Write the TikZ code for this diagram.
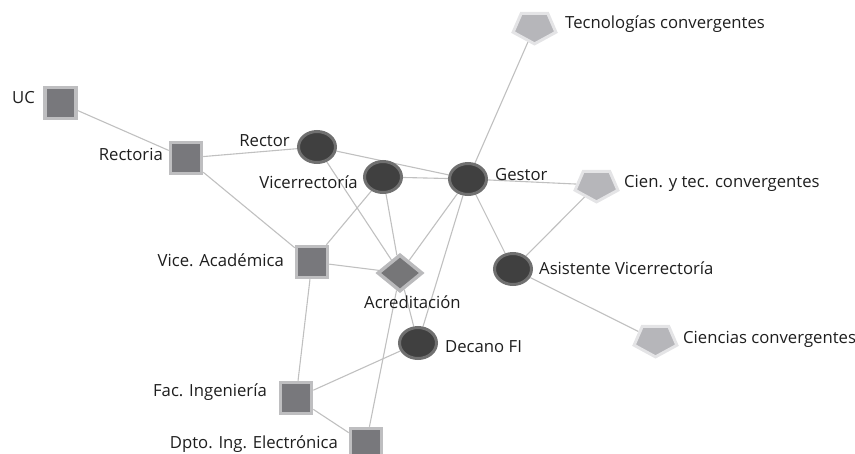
\documentclass[tikz,border=0pt]{standalone}
\usepackage{fontspec}
\setmainfont{Open Sans}
\usetikzlibrary{shapes.geometric,backgrounds}

\definecolor{sqfill}{RGB}{120,120,124}
\definecolor{sqedge}{RGB}{190,190,192}
\definecolor{elfill}{RGB}{64,64,64}
\definecolor{eledge}{RGB}{112,112,112}
\definecolor{dmfill}{RGB}{118,118,120}
\definecolor{dmedge}{RGB}{186,186,188}
\definecolor{ptfill}{RGB}{182,182,186}
\definecolor{ptedge}{RGB}{228,228,230}
\definecolor{link}{RGB}{192,192,192}
\definecolor{ink}{RGB}{30,30,30}

\tikzset{
  unit/.style={rectangle, fill=sqfill, draw=sqedge, line width=3.5pt,
    minimum size=31pt, inner sep=0pt},
  person/.style={ellipse, fill=elfill, draw=eledge, line width=3pt,
    minimum width=37pt, minimum height=31pt, inner sep=0pt},
  process/.style={diamond, fill=dmfill, draw=dmedge, line width=3.5pt,
    minimum width=45pt, minimum height=37pt, inner sep=0pt},
  topic/.style={regular polygon, regular polygon sides=5,
    shape border rotate=180, fill=ptfill, draw=ptedge, line width=3pt,
    minimum size=45pt, inner sep=0pt, yscale=0.75, transform shape},
  tag/.style={text=ink, font=\fontsize{16.7}{20}\selectfont, inner sep=0pt},
  link/.style={draw=link, line width=1.1pt},
}

\begin{document}
\begin{tikzpicture}[x=1pt, y=-1pt]
\useasboundingbox (0,0) rectangle (855,453);
\clip (0,0) rectangle (855,453);

% actors and units
\node[unit]    (uc)   at (60.5,103) {};
\node[unit]    (rect) at (186,158) {};
\node[person]  (rctr) at (317,147) {};
\node[person]  (vice) at (383,177) {};
\node[person]  (gest) at (468,179) {};
\node[unit]    (vaca) at (312,262) {};
\node[process] (acre) at (400,273) {};
\node[person]  (deca) at (418,343) {};
\node[unit]    (faci) at (296,398) {};
\node[unit]    (dpto) at (366,444) {};
\node[person]  (asis) at (513,269) {};
\node[topic]   (tecc) at (534.5,27) {};
\node[topic]   (cytc) at (596.5,185) {};
\node[topic]   (cien) at (655.5,340) {};

% labels
\node[tag, anchor=base east] (uc-l)   at (35,103)   {UC};
\node[tag, anchor=base east] (rect-l) at (163,160)  {Rectoria};
\node[tag, anchor=base east] (rctr-l) at (290,146)  {Rector};
\node[tag, anchor=base east] (vice-l) at (358,188)  {Vicerrectoría};
\node[tag, anchor=base west] (gest-l) at (495,180)  {Gestor};
\node[tag, anchor=base east] (vaca-l) at (284,266)  {Vice. Académica};
\node[tag, anchor=base west] (acre-l) at (364,308)  {Acreditación};
\node[tag, anchor=base west] (deca-l) at (445,352)  {Decano FI};
\node[tag, anchor=base east] (faci-l) at (267,396)  {Fac. Ingeniería};
\node[tag, anchor=base east] (dpto-l) at (338,448)  {Dpto. Ing. Electrónica};
\node[tag, anchor=base west] (asis-l) at (539,274)  {Asistente Vicerrectoría};
\node[tag, anchor=base west] (tecc-l) at (565,28)   {Tecnologías convergentes};
\node[tag, anchor=base west] (cytc-l) at (624,187)  {Cien. y tec. convergentes};
\node[tag, anchor=base west] (cien-l) at (683,343)  {Ciencias convergentes};

% relations
\begin{scope}[on background layer]
  \draw[link] (uc) -- (rect);
  \draw[link] (rect) -- (rctr);
  \draw[link] (rect) -- (vaca);
  \draw[link] (rctr) -- (gest);
  \draw[link] (rctr) -- (acre);
  \draw[link] (vice) -- (gest);
  \draw[link] (vice) -- (vaca);
  \draw[link] (vice) -- (acre);
  \draw[link] (gest) -- (tecc);
  \draw[link] (gest) -- (cytc);
  \draw[link] (gest) -- (asis);
  \draw[link] (gest) -- (acre);
  \draw[link] (gest) -- (deca);
  \draw[link] (vaca) -- (acre);
  \draw[link] (vaca) -- (faci);
  \draw[link] (acre) -- (deca);
  \draw[link] (acre) -- (dpto);
  \draw[link] (faci) -- (deca);
  \draw[link] (faci) -- (dpto);
  \draw[link] (asis) -- (cytc);
  \draw[link] (asis) -- (cien);
\end{scope}
\end{tikzpicture}
\end{document}
